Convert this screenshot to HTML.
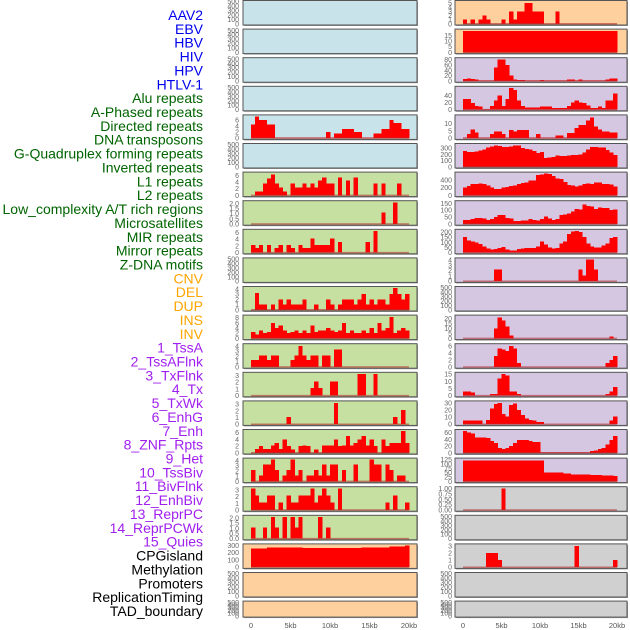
<!DOCTYPE html>
<html><head><meta charset="utf-8"><style>
html,body{margin:0;padding:0;background:#fff;}
svg{display:block;font-family:"Liberation Sans",sans-serif;}
</style></head><body>
<svg id="chart" width="630" height="630" viewBox="0 0 630 630" xmlns="http://www.w3.org/2000/svg"></svg>
<script>
const trackLabels = ["AAV2","EBV","HBV","HIV","HPV","HTLV-1","Alu repeats","A-Phased repeats","Directed repeats","DNA transposons","G-Quadruplex forming repeats","Inverted repeats","L1 repeats","L2 repeats","Low_complexity A/T rich regions","Microsatellites","MIR repeats","Mirror repeats","Z-DNA motifs","CNV","DEL","DUP","INS","INV","1_TssA","2_TssAFlnk","3_TxFlnk","4_Tx","5_TxWk","6_EnhG","7_Enh","8_ZNF_Rpts","9_Het","10_TssBiv","11_BivFlnk","12_EnhBiv","13_ReprPC","14_ReprPCWk","15_Quies","CPGisland","Methylation","Promoters","ReplicationTiming","TAD_boundary"];
const labelGroups = [6,13,5,15,5];
const groupColors = ["#0000ee","#006400","#ffa500","#a020f0","#000000"];
const xTickLabels = ["0","5kb","10kb","15kb","20kb"];
const xTickKb = [0,5,10,15,20];
const E = [0,100,200,300,400,500];
const leftBg = ["#c8e4ea","#c8e4ea","#c8e4ea","#c8e4ea","#c8e4ea","#c8e4ea","#c6e0a2","#c6e0a2","#c6e0a2","#c6e0a2","#c6e0a2","#c6e0a2","#c6e0a2","#c6e0a2","#c6e0a2","#c6e0a2","#c6e0a2","#c6e0a2","#c6e0a2","#fed09e","#fed09e","#fed09e"];
const rightBg = ["#fed09e","#fed09e","#d5c6e2","#d5c6e2","#d5c6e2","#d5c6e2","#d5c6e2","#d5c6e2","#d5c6e2","#d5c6e2","#d5c6e2","#d5c6e2","#d5c6e2","#d5c6e2","#d5c6e2","#d5c6e2","#d5c6e2","#d0d0d0","#d0d0d0","#d0d0d0","#d0d0d0","#d0d0d0"];
const leftTicks = [E,E,E,E,[0,2,4,6],E,[0,2,4,6],["0.0","0.5","1.0","1.5","2.0"],[0,2,4,6],E,[0,1,2,3,4],[0,2,4,6,8],[0,1,2,3,4],[0,1,2,3],[0,1,2,3],[0,2,4,6],[0,1,2,3,4],[0,1,2,3],["0.0","0.5","1.0","1.5","2.0"],[0,100,200,300],E,E];
const leftMax = [500,500,500,500,7.2,500,6.6,2.15,6.6,500,4.25,8.5,4.2,3.3,3.3,6.6,4.2,3.3,2.15,305,500,500];
const rightTicks = [[0,1,2,3,4,5],[0,5,10,15],[0,20,40,60,80],[0,20,40],[0,5,10],[0,100,200,300],[0,200,400],[0,50,100,150],[0,50,100,150,200],[0,1,2,3,4],E,[0,5,10,15,20],[0,2,4,6],[0,5,10,15],[0,10,20,30],[0,20,40,60],[0,25,50,75,100,125],["0.00","0.25","0.50","0.75","1.00"],E,[0,1,2,3],E,E];
const rightMax = [5.3,19.5,83,62,15,355,570,160,215,4.2,500,22,6.3,15.5,31,66,127,1.03,500,3.1,500,500];
const Z = null;
const leftSeries = [Z,Z,Z,Z,
[4.5,7,6,6,4.5,4.5,0.2,0.2,0.2,0.2,0.2,0.2,0.2,0.2,0.2,0.2,0.2,0.2,0.2,2,0.3,1.5,1.5,3,3,3,2,2,0.3,0.3,0.3,1.5,1.5,3,3,6,5,5,3,3],
Z,
[0,1.2,1.2,3.5,5,6.3,3.5,2.3,1.2,0,3.5,2.3,2.3,3.5,2.3,3.5,2.3,4.5,5.3,3.5,3.5,0,5.3,0,4.5,0,5.3,0,0,0,0,3.5,0,3.5,0,0,0,3.5,0,0],
[0,0,0,0,0,0,0,0,0,0,0,0,0,0,0,0,0,0,0,0,0,0,0,0,0,0,0,0,0,0,0,0,0,1.1,0,0,2.1,0,0,0],
[2.3,1.3,2.3,0,2.3,0,1.3,2.3,0,2.3,1.3,0,2.3,1.3,1.3,4.2,2.3,2.3,2.3,2.3,4.2,0,3.2,0,0,0,0,0,0,3.2,0,6.5,0,0,0,0,0,0,0,0],
Z,
[0,3.2,1,1,0,1,0,2,1,2,1,1,1,2,0,0,1,0,0,2,1,0,1,2,2,2,1,2,3,1,2,1,2,2,1,3,4.2,3,2,3],
[2.5,1.5,3,2,2.5,6,4,5,3,2,2.5,3,2,3,2,5,2.5,3,3,4,3,2.5,3,6,2,3,2,2,3,2,4,2,6,3,4,8.3,2,3,4,3],
[1.3,1.3,2.2,2.2,1.3,2.2,2.2,0,0,0,1.3,2.2,4,2.2,1.3,2.2,2.2,0,2.2,2.2,0,3.3,3.3,0,0,0,0,0,0,0,0,0,0,0,0,0,0,0,0,0],
[0,0,0,0,0,0,0,0,0,0,0,0,0,0,0,1.1,2.1,1.1,0,0,2.1,2.1,0,0,0,0,0,3.2,3.2,0,0,3.2,0,0,0,0,0,0,0,0],
[0,0,0,0,0,0,0,0,0,1.1,0,0,0,0,0,0,0,0,0,0,0,3.2,0,0,0,0,0,0,0,0,0,0,0,0,0,0,1.1,0,2.1,0],
[0,1.2,2,1.2,1.2,2.2,3,1.2,4,2,1,0,2,2.2,2,0,1,0,2.2,2.2,2.2,4,2,2.2,5,2.2,3,4,5,2.2,4,2,0,4,2,3,3,3,6.5,3],
[2.2,0,1.1,3.2,3.2,4.2,2.2,0,1.1,2.2,4.2,1.1,2.2,0,1.1,1.1,2.2,1.1,3.2,1.1,3.2,3.2,0,2.2,0,0,3.2,0,0,0,4.2,3.2,3.2,0,3.2,2.2,0,1.1,1.1,0],
[3.2,2.2,1.1,1.1,2.2,2.2,0,1.1,0,2.2,1.1,1.1,2.2,2.2,2.2,3.2,1.1,2.2,3.2,2.2,1.1,0,3.2,0,0,0,0,0,0,0,0,0,0,0,1.1,0,2.2,0,0,1.1],
[1.1,0,0,1.1,0,2.1,1.1,0,2.1,0,2.1,1.1,2.1,0,0,0,0,2.1,0,1.1,0,0,0,0,0,0,0,0,0,0,0,0,0,0,0,0,0,0,0,0],
[260,260,260,260,275,275,275,275,275,275,275,275,275,265,265,265,265,265,265,265,265,265,265,265,265,265,265,265,275,275,275,275,275,275,275,285,285,285,285,300],
Z,Z];
const rightSeries = [
[1,0,1,0,1,2,1,0,0,0,1,0,3,1,3,3,5,5,3,3,3,0,0,0,3,0,0,0,0,0,0,0,0,0,0,0,0,0,0,0],
[19,19,19,19,19,19,19,19,19,19,19,19,19,19,19,19,19,19,19,19,19,19,19,19,19,19,19,19,19,19,19,19,19,19,19,19,19,19,19,19],
[8,10,8,5,2,2,2,2,50,80,80,60,20,5,3,3,2,2,2,2,3,2,2,2,2,2,2,5,5,2,5,2,2,2,2,2,2,5,10,10],
[30,30,18,10,8,2,2,10,25,40,10,30,60,55,25,10,6,6,6,6,8,8,8,5,5,5,5,10,20,25,20,18,12,5,5,8,5,25,25,45],
[0.5,3,6,4,0.5,0.5,0.5,3,4.5,4.5,3,0.5,5.5,4.5,5.5,5.5,5.5,0.5,0.5,3,0.5,0.5,0.5,0.5,2,2,0.5,3.5,3.5,7,9,9,12,14,8,6,4.5,4.5,4,4],
[250,240,235,245,260,280,310,330,345,335,320,320,330,345,340,300,285,280,250,225,240,140,150,160,180,175,175,180,190,190,200,230,280,320,320,310,310,270,230,190],
[200,240,300,290,310,300,260,200,170,160,200,220,240,260,300,320,330,380,390,520,540,560,550,500,430,420,350,270,250,230,260,300,310,300,330,330,300,290,280,230],
[30,30,35,45,45,40,30,35,50,65,65,45,40,20,20,25,25,35,30,25,35,55,40,30,35,65,70,75,90,110,105,140,130,125,110,120,115,115,100,105],
[150,120,110,100,85,60,40,30,35,45,55,30,20,20,35,40,45,45,45,60,110,80,50,40,45,90,110,180,205,210,200,150,90,60,50,50,70,90,140,150],
[0,0,0,0,0,0,0,0,2.2,2.2,0,0,0,0,0,0,0,0,0,0,0,0,0,0,0,0,0,0,0,0,2.2,1.1,4.1,4.1,2.2,0,0,0,0,0],
Z,
[0,0,0,0,0,0,0,0,10,21,18,12,3,0,0,0,0,0,0,0,0,0,0,0,0,0,0,0,0,0,0,0,0,0,0,0,0,0,2,0],
[0,0,0,0,0,0,0,0,3.2,5.3,5,4.5,6,5.3,1.1,0,0,0,0,0,0,0,0,0,0,0,0,0,0,0,0,0,0,0,0,0,0,1.1,2,3.2],
[3,3,2,0,0,0,0,1.2,1.2,12,15,14,3,3,1,0,0,0,0,0,0,0,0,0,0,0,0,0,0,0,0,0,0,0,0,0,0,1,3,6],
[5,5,5,5,5,0.5,6,22,28,30,14,11,27,29,20,13,8,6,5,3,3,0.3,0.3,0.3,0.3,0.3,0.3,0.3,0.3,0.3,0.3,0.3,0.3,0.3,0.3,0.3,0.3,0.3,5,11],
[65,60,58,45,45,45,44,35,30,15,12,14,20,30,38,38,38,35,33,32,0.5,0.5,0.5,0.5,0.5,0.5,0.5,0.5,0.5,0.5,0.5,0.5,0.5,5,7,12,15,25,38,50],
[120,120,120,120,120,120,120,120,120,120,120,120,120,120,120,120,120,120,120,120,120,50,50,50,50,50,45,45,40,40,40,40,40,38,38,38,35,35,35,30],
[0,0,0,0,0,0,0,0,0,0,1,0,0,0,0,0,0,0,0,0,0,0,0,0,0,0,0,0,0,0,0,0,0,0,0,0,0,0,0,0],
Z,
[0,0,0,0,0,0,2,2,2,1,0,0,0,0,0,0,0,0,0,0,0,0,0,0,0,0,0,0,0,3,0,0,0,0,0,0,0,0,0,1],
Z,Z];

const NS = "http://www.w3.org/2000/svg";
const svg = document.getElementById("chart");
function mk(tag, attrs, parent){const e=document.createElementNS(NS,tag);for(const k in attrs)e.setAttribute(k,attrs[k]);(parent||svg).appendChild(e);return e;}

let gi=0, gc=0;
trackLabels.forEach((t,i)=>{
  const el = mk("text",{x:203,y:15+i*13.86+5,"text-anchor":"end","font-size":14,fill:groupColors[gi]});
  el.textContent=t;
  
  
  gc++; if(gc>=labelGroups[gi]){gi++;gc=0;}
});

const cols = [
  {px:243,pw:174,x0:251,x20:409,tx:239,bg:leftBg,ticks:leftTicks,max:leftMax,data:leftSeries,name:"left"},
  {px:455,pw:172,x0:463,x20:617,tx:452,bg:rightBg,ticks:rightTicks,max:rightMax,data:rightSeries,name:"right"}
];
const nRows = 22;
cols.forEach(c=>{
  const xs = kb => c.x0 + kb/20*(c.x20-c.x0);
  for(let r=0;r<nRows;r++){
    const top = 0.5 + r*28.6;
    const h = r===nRows-1 ? 16 : 24.5;
    const bottom = top+h;
    const dmax = c.max[r];
    const ys = v => bottom - 1.2 - v/dmax*(h-2.4);
    const g = mk("g",{});
    
    
    mk("rect",{x:c.px+1,y:top+1,width:c.pw,height:h,fill:"#9a9a9a"},g);
    mk("rect",{x:c.px,y:top,width:c.pw,height:h,fill:c.bg[r],stroke:"#555","stroke-width":1},g);
    const tk = c.ticks[r];
    tk.forEach(t=>{
      const v=parseFloat(t);
      const y=ys(v);
      const tt=mk("text",{x:c.tx,y:y+2.5,"text-anchor":"end","font-size":7,fill:"#666"},g);
      tt.textContent=String(t);
      
      
    });
    const vals = c.data[r];
    if(vals){
      const bw = (c.x20-c.x0)/vals.length;
      vals.forEach((v,i)=>{
        if(v<=0) return;
        const x = xs(i*20/vals.length);
        const y = ys(v);
        const b = mk("rect",{x:x,y:y,width:bw+0.3,height:ys(0)-y,fill:"#ff0000","shape-rendering":"crispEdges"},g);
        
        
      });
      const bl = mk("line",{x1:xs(0),x2:xs(20),y1:ys(0),y2:ys(0),stroke:"#b03030","stroke-opacity":0.6,"stroke-width":1.5},g);
      
      
    }
  }
  xTickKb.forEach((k,i)=>{
    const t = mk("text",{x:xs(k),y:628,"text-anchor":"middle","font-size":7.5,fill:"#555"});
    t.textContent = xTickLabels[i];
    
    
  });
});
</script>
</body></html>
